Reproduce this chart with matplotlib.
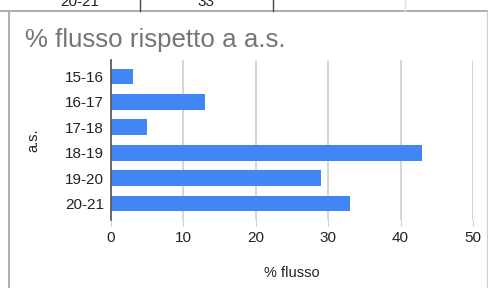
import matplotlib
matplotlib.use("Agg")
import matplotlib.pyplot as plt
from matplotlib.lines import Line2D

categories = ["15-16", "16-17", "17-18", "18-19", "19-20", "20-21"]
values = [3, 13, 5, 43, 29, 33]
xticks = [0, 10, 20, 30, 40, 50]
title = "% flusso rispetto a a.s."
xlabel = "% flusso"
ylabel = "a.s."
table_row = ["20-21", "33"]

plt.rcParams['font.family'] = ['Liberation Sans', 'DejaVu Sans']

W, H = 488, 288
fig = plt.figure(figsize=(W / 100, H / 100), dpi=100)
fig.patch.set_facecolor('white')

def px(x, y):
    return x / W, 1 - y / H

# table fragment at top
fig.add_artist(Line2D([0, 1], [1 - 11 / H] * 2, color='#a0a0a0', lw=1.2))
for xv, col in [(140, '#444444'), (273, '#444444'), (405, '#e0e0e0')]:
    fig.add_artist(Line2D([xv / W] * 2, [1 - 11 / H, 1], color=col, lw=1))
fig.text(*px(80, 6), table_row[0], ha='center', va='baseline', fontsize=11, color='#222222')
fig.text(*px(206, 6), table_row[1], ha='center', va='baseline', fontsize=11, color='#222222')

# chart frame
fig.add_artist(Line2D([8.5 / W] * 2, [0, 1 - 11 / H], color='#b0b0b0', lw=1.5))
fig.add_artist(Line2D([486.5 / W] * 2, [0, 1 - 11 / H], color='#d0d0d0', lw=1))

# title
fig.text(*px(25, 47), title, ha='left', va='baseline', fontsize=18.6, color='#757575')

ax = fig.add_axes([111 / W, 1 - 220 / H, (473 - 111) / W, (220 - 60) / H])
ax.barh(range(len(categories)), values, height=0.62, color='#4285F4', zorder=3)
ax.set_xlim(0, 50)
ax.set_ylim(5.65, -0.65)
ax.set_yticks(range(len(categories)))
ax.set_yticklabels(categories, fontsize=11, color='#222222')
ax.set_xticks(xticks)
ax.set_xticklabels([str(t) for t in xticks], fontsize=11, color='#222222')
ax.xaxis.grid(True, color='#d0d0d0', lw=1.2, zorder=0)
for s in ['top', 'right', 'bottom']:
    ax.spines[s].set_visible(False)
ax.spines['left'].set_color('#555555')
ax.spines['left'].set_linewidth(1.2)
ax.spines['left'].set_zorder(4)
ax.tick_params(axis='y', length=0, pad=5)
ax.tick_params(axis='x', length=4, color='#d0d0d0', pad=4)
ax.set_xlabel(xlabel, fontsize=10.5, color='#222222', labelpad=15)
ax.set_ylabel(ylabel, fontsize=10.5, color='#222222', labelpad=18)

fig.savefig("out.png", dpi=100)
